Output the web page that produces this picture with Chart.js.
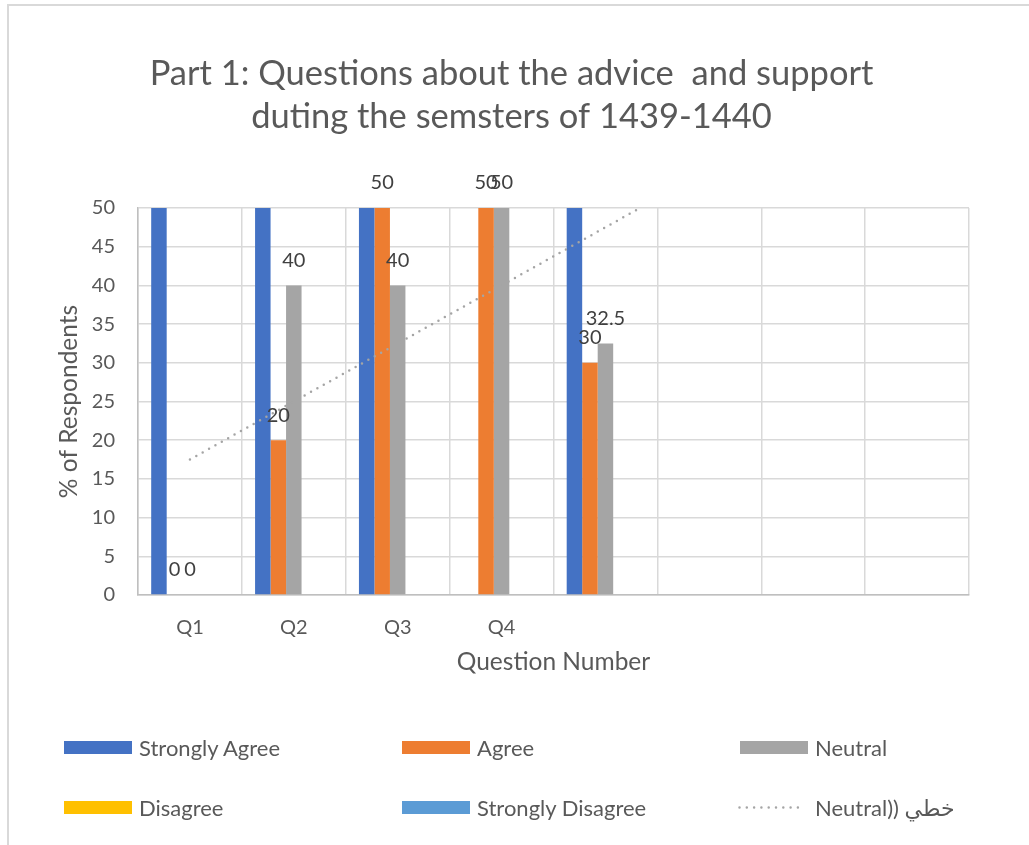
<!DOCTYPE html>
<html>
<head>
<meta charset="utf-8">
<title>Part 1</title>
<script src="https://cdn.jsdelivr.net/npm/chart.js@4.4.1/dist/chart.umd.min.js"></script>
<style>
  html, body { margin: 0; padding: 0; background: #fff; }
  body { width: 1029px; height: 845px; overflow: hidden; position: relative; font-family: Lato, "DejaVu Sans", sans-serif; }
  #frame { position: absolute; left: 7px; top: 4px; width: 1100px; height: 900px; border: 2px solid #D9D9D9; box-sizing: border-box; }
  #wrap { position: absolute; left: 0; top: 0; width: 1029px; height: 845px; }
  #legend { position: absolute; left: 0; top: 0; width: 1029px; height: 845px; pointer-events: none; }
  .item { position: absolute; height: 26px; display: flex; align-items: center; font-size: 22px; color: #595959; white-space: nowrap; }
  .swatch { width: 68px; height: 13px; margin-right: 7px; }
  .trend { width: 70px; height: 13px; margin-left: -2px; margin-right: 7px; }
</style>
</head>
<body>
<div id="frame"></div>
<div id="wrap"><canvas id="chart"></canvas></div>
<div id="legend"></div>

<script>
// ---- data ----
const categories = ["Q1", "Q2", "Q3", "Q4", "", "", "", ""];
const strongAgree = [60, 60, 60, null, 60, null, null, null];
const agree = [0, 20, 50, 50, 30, null, null, null];
const neutral = [0, 40, 40, 50, 32.5, null, null, null];
const disagree = [null, null, null, null, null, null, null, null];
const strongDisagree = [null, null, null, null, null, null, null, null];
const yMin = 0, yMax = 50, yStep = 5;

const titleLines = [
    "Part 1: Questions about the advice  and support",
    "duting the semsters of 1439-1440",
];
const trendLabel = "Neutral)) خطي";

// least squares line through the non-empty points, evaluated at every category
function linearTrend(values) {
    const pts = values.map((v, i) => [i, v]).filter((p) => p[1] != null);
    const n = pts.length;
    const mx = pts.reduce((s, p) => s + p[0], 0) / n;
    const my = pts.reduce((s, p) => s + p[1], 0) / n;
    let num = 0, den = 0;
    pts.forEach((p) => { num += (p[0] - mx) * (p[1] - my); den += (p[0] - mx) ** 2; });
    const slope = num / den;
    return values.map((_, i) => my + slope * (i - mx));
}

// value labels above the bars of datasets flagged with showValues
const valueLabels = {
    id: "valueLabels",
    afterDatasetsDraw(chart) {
        const ctx = chart.ctx;
        ctx.save();
        ctx.font = "20px Lato";
        ctx.fillStyle = "#404040";
        ctx.textAlign = "center";
        ctx.textBaseline = "middle";
        chart.data.datasets.forEach((ds, di) => {
            if (!ds.showValues) return;
            chart.getDatasetMeta(di).data.forEach((bar, i) => {
                const v = ds.data[i];
                if (v == null) return;
                ctx.fillText(String(v), bar.x, bar.y - 25);
            });
        });
        ctx.restore();
    },
};

Chart.defaults.font.family = "Lato";
Chart.defaults.color = "#595959";

function barSet(label, data, color, showValues) {
    return {
        type: "bar",
        label: label,
        data: data,
        backgroundColor: color,
        borderWidth: 0,
        clip: 0,
        order: 1,
        showValues: showValues,
    };
}

const ctx = document.getElementById("chart").getContext("2d");
const chart = new Chart(ctx, {
    type: "bar",
    data: {
        labels: categories,
        datasets: [
            barSet("Strongly Agree", strongAgree, "#4472C4", false),
            barSet("Agree", agree, "#ED7D31", true),
            barSet("Neutral", neutral, "#A5A5A5", true),
            barSet("Disagree", disagree, "#FFC000", false),
            barSet("Strongly Disagree", strongDisagree, "#5B9BD5", false),
            {
                type: "line",
                label: trendLabel,
                data: linearTrend(neutral),
                borderColor: "#A5A5A5",
                borderWidth: 2.5,
                borderDash: [0, 7.3],
                borderCapStyle: "round",
                pointRadius: 0,
                fill: false,
                tension: 0,
                order: 0,
            },
        ],
    },
    options: {
        responsive: true,
        maintainAspectRatio: false,
        animation: false,
        layout: { padding: { left: 54, right: 60, top: 0, bottom: 168 } },
        datasets: { bar: { barPercentage: 1, categoryPercentage: 0.746 } },
        plugins: {
            legend: { display: false },
            tooltip: { enabled: false },
            title: {
                display: true,
                text: titleLines,
                color: "#595959",
                font: { size: 34.5, weight: "normal", lineHeight: 1.246 },
                padding: { top: 52.5, bottom: 69.5 },
            },
        },
        scales: {
            x: {
                grid: { color: "#D9D9D9", lineWidth: 1.5, drawTicks: false, offset: true },
                border: { color: "#BFBFBF", width: 1.5 },
                ticks: { padding: 21, font: { size: 20 }, color: "#595959" },
                title: {
                    display: true,
                    text: "Question Number",
                    font: { size: 24.5 },
                    color: "#595959",
                    padding: 0,
                },
                afterFit(scale) { scale.height = 82; },
            },
            y: {
                min: yMin,
                max: yMax,
                grid: { color: "#D9D9D9", lineWidth: 1.5, drawTicks: false },
                border: { color: "#BFBFBF", width: 1.5 },
                ticks: { stepSize: yStep, padding: 23, font: { size: 20 }, color: "#595959" },
                title: {
                    display: true,
                    text: "% of Respondents",
                    font: { size: 24.5 },
                    color: "#595959",
                    padding: 0,
                },
                afterFit(scale) { scale.width = 84; },
            },
        },
    },
    plugins: [valueLabels],
});

// ---- legend: three columns, two rows ----
const legendCols = [64, 402, 740];
const legendRows = [747, 807];
const legendBox = document.getElementById("legend");
chart.data.datasets.forEach((ds, i) => {
    const item = document.createElement("div");
    item.className = "item";
    item.style.left = legendCols[i % 3] + "px";
    item.style.top = legendRows[Math.floor(i / 3)] - 13 + "px";
    if (ds.type === "line") {
        item.innerHTML =
            '<svg class="trend" width="70" height="13"><line x1="1.5" y1="6.5" x2="67" y2="6.5" stroke="#A5A5A5" stroke-width="2.5" stroke-linecap="round" stroke-dasharray="0 7.3"/></svg>';
    } else {
        const sw = document.createElement("div");
        sw.className = "swatch";
        sw.style.background = ds.backgroundColor;
        item.appendChild(sw);
    }
    const txt = document.createElement("span");
    txt.dir = "ltr";
    txt.textContent = ds.label;
    item.appendChild(txt);
    legendBox.appendChild(item);
});
</script>
</body>
</html>
